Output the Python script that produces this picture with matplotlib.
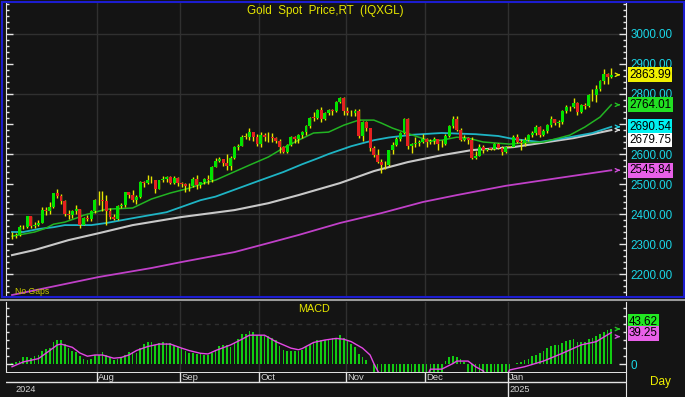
import numpy as np
import pandas as pd
import matplotlib
matplotlib.use('Agg')
import matplotlib.pyplot as plt
from matplotlib.lines import Line2D
from matplotlib.patches import Rectangle
from matplotlib.ticker import MultipleLocator, FixedLocator, FormatStrFormatter

plt.rcParams['font.family'] = ['Liberation Sans', 'DejaVu Sans']

# daily gold spot candles, 1 Jul 2024 .. 7 Feb 2025 (weekdays)
dates = pd.bdate_range('2024-07-01', '2025-02-07')

opens = [2326, 2327, 2330, 2356, 2356, 2392, 2359, 2364, 2371, 2415, 2411, 2422, 2469, 2459, 2445, 2400, 2396, 2409, 2417, 2364, 2387, 2384, 2411,
         2447, 2446, 2443, 2409, 2390, 2382, 2427, 2431, 2472, 2465, 2447, 2456, 2507, 2504, 2514, 2512, 2484, 2512, 2518, 2524, 2504, 2520,
         2503, 2500, 2493, 2495, 2516, 2497, 2506, 2516, 2512, 2558, 2578, 2582, 2569, 2559, 2587, 2622, 2628, 2657, 2657, 2672, 2658,
         2634, 2663, 2657, 2656, 2653, 2644, 2622, 2608, 2630, 2657, 2649, 2662, 2674, 2693, 2721, 2720, 2748, 2715, 2736, 2747, 2743, 2774, 2788,
         2744, 2736, 2736, 2742, 2659, 2706, 2685, 2619, 2598, 2573, 2565, 2563, 2612, 2631, 2650, 2670, 2716, 2625, 2633, 2637, 2640,
         2650, 2639, 2643, 2650, 2632, 2633, 2660, 2694, 2718, 2681, 2648, 2652, 2646, 2586, 2594, 2622, 2613, 2618, 2617, 2634, 2621, 2606,
         2624, 2624, 2658, 2640, 2635, 2648, 2662, 2670, 2690, 2663, 2677, 2697, 2715, 2702, 2708, 2743, 2756, 2755, 2771, 2740, 2763, 2760, 2795,
         2798, 2815, 2842, 2866, 2856]
highs = [2339, 2336, 2365, 2363, 2392, 2393, 2372, 2381, 2424, 2425, 2440, 2470, 2483, 2467, 2446, 2412, 2412, 2431, 2418, 2390, 2398, 2414, 2451,
         2477, 2477, 2462, 2420, 2400, 2431, 2436, 2475, 2474, 2480, 2463, 2509, 2510, 2531, 2526, 2514, 2514, 2527, 2528, 2526, 2526, 2524,
         2506, 2504, 2503, 2523, 2529, 2508, 2519, 2529, 2560, 2586, 2590, 2585, 2600, 2595, 2625, 2634, 2664, 2670, 2685, 2674, 2666,
         2673, 2669, 2672, 2671, 2658, 2650, 2625, 2633, 2661, 2660, 2667, 2677, 2696, 2722, 2740, 2749, 2758, 2739, 2749, 2749, 2775, 2790, 2790,
         2758, 2745, 2750, 2749, 2711, 2710, 2685, 2627, 2618, 2583, 2577, 2615, 2639, 2656, 2674, 2721, 2721, 2635, 2657, 2646, 2665,
         2652, 2649, 2657, 2651, 2645, 2667, 2697, 2726, 2726, 2685, 2664, 2655, 2658, 2610, 2632, 2630, 2621, 2619, 2638, 2636, 2628, 2627,
         2627, 2662, 2665, 2649, 2655, 2666, 2678, 2697, 2692, 2683, 2699, 2725, 2716, 2713, 2745, 2763, 2759, 2785, 2772, 2765, 2770, 2799, 2817,
         2830, 2845, 2882, 2870, 2886]
lows = [2318, 2319, 2326, 2351, 2353, 2353, 2353, 2360, 2369, 2397, 2400, 2419, 2453, 2434, 2393, 2384, 2388, 2401, 2353, 2364, 2376, 2378, 2405,
        2430, 2410, 2364, 2382, 2379, 2381, 2419, 2425, 2455, 2440, 2432, 2453, 2490, 2499, 2504, 2471, 2482, 2507, 2507, 2499, 2500, 2494,
        2489, 2472, 2477, 2491, 2485, 2486, 2500, 2500, 2508, 2556, 2575, 2560, 2547, 2546, 2584, 2613, 2625, 2651, 2648, 2643, 2625,
        2624, 2642, 2640, 2639, 2636, 2605, 2605, 2603, 2627, 2638, 2637, 2654, 2664, 2687, 2710, 2716, 2708, 2713, 2729, 2730, 2740, 2771, 2730,
        2730, 2727, 2725, 2652, 2643, 2676, 2610, 2589, 2570, 2537, 2550, 2561, 2600, 2626, 2644, 2667, 2618, 2605, 2622, 2627, 2635,
        2622, 2632, 2632, 2613, 2622, 2631, 2658, 2687, 2676, 2643, 2644, 2633, 2584, 2583, 2592, 2602, 2610, 2615, 2614, 2616, 2597, 2604,
        2622, 2622, 2635, 2615, 2625, 2644, 2656, 2664, 2656, 2661, 2669, 2690, 2697, 2691, 2701, 2735, 2743, 2752, 2730, 2738, 2750, 2756, 2775,
        2772, 2810, 2834, 2834, 2852]
closes = [2327, 2330, 2356, 2356, 2392, 2359, 2364, 2371, 2415, 2411, 2422, 2469, 2459, 2445, 2400, 2396, 2409, 2417, 2364, 2387, 2384, 2411, 2447,
          2446, 2443, 2409, 2390, 2382, 2427, 2431, 2472, 2465, 2447, 2456, 2507, 2504, 2514, 2512, 2484, 2512, 2518, 2524, 2504, 2520, 2503,
          2500, 2493, 2495, 2516, 2497, 2506, 2516, 2512, 2558, 2578, 2582, 2569, 2559, 2587, 2622, 2628, 2657, 2657, 2672, 2658, 2634,
          2663, 2657, 2656, 2653, 2644, 2622, 2608, 2630, 2657, 2649, 2662, 2674, 2693, 2721, 2720, 2748, 2715, 2736, 2747, 2743, 2774, 2788, 2744,
          2736, 2736, 2742, 2659, 2706, 2685, 2619, 2598, 2573, 2565, 2563, 2612, 2631, 2650, 2670, 2716, 2625, 2633, 2637, 2640, 2650,
          2639, 2643, 2650, 2632, 2633, 2660, 2694, 2718, 2681, 2648, 2652, 2646, 2586, 2594, 2622, 2613, 2618, 2617, 2634, 2621, 2606, 2624,
          2624, 2658, 2640, 2635, 2648, 2662, 2670, 2690, 2663, 2677, 2697, 2715, 2702, 2708, 2743, 2756, 2755, 2771, 2740, 2763, 2760, 2795, 2798,
          2815, 2842, 2866, 2856, 2863.99]

# moving averages (bar index, value)
ma_fast_idx = [0, 3, 6, 9, 11, 14, 17, 19, 22, 25, 32, 37, 42, 47, 51, 54, 63, 68, 72, 76, 80, 84, 88, 92, 96, 98, 101, 104, 107, 111,
               114, 118, 121, 125, 129, 132, 135, 141, 145, 148, 152, 156, 159]
ma_fast = [2326, 2333, 2340, 2353, 2366, 2373, 2386, 2396, 2406, 2416, 2420, 2450, 2470, 2486, 2503, 2513, 2563, 2590, 2620, 2646,
           2670, 2673, 2696, 2713, 2713, 2703, 2686, 2673, 2660, 2643, 2646, 2656, 2653, 2640, 2636, 2633, 2636, 2640, 2653, 2663,
           2690, 2723, 2764.01]
ma_mid_idx = [0, 3, 7, 11, 14, 21, 25, 32, 41, 50, 54, 66, 72, 77, 81, 84, 90, 96, 100, 106, 114, 123, 129, 133, 140, 148, 154, 159]
ma_mid = [2340, 2340, 2350, 2356, 2363, 2363, 2370, 2386, 2406, 2446, 2458, 2513, 2540, 2566, 2585, 2600, 2626, 2646, 2655, 2664,
          2670, 2666, 2660, 2650, 2640, 2656, 2670, 2690.54]
ma_slow_idx = [0, 6, 15, 23, 32, 45, 59, 68, 76, 87, 96, 105, 114, 122, 133, 140, 149, 159]
ma_slow = [2263, 2280, 2313, 2336, 2363, 2390, 2413, 2436, 2463, 2503, 2543, 2573, 2596, 2613, 2623, 2636, 2653, 2679.75]
ma_long_idx = [0, 10, 23, 37, 45, 59, 68, 76, 87, 98, 109, 118, 131, 145, 159]
ma_long = [2130, 2156, 2190, 2220, 2240, 2273, 2303, 2330, 2370, 2403, 2440, 2463, 2494, 2520, 2545.84]

# MACD bars (one per day) and signal line
macd = [2, 3, 4, 9, 9, 8, 10, 12, 16, 19, 20, 27, 30, 30, 25, 20, 17, 15, 10, 7, 5, 7, 12,
        12, 15, 11, 9, 5, 6, 8, 12, 15, 15, 14, 20, 25, 27, 28, 24, 26, 27, 26, 26, 24, 22,
        20, 16, 14, 14, 13, 13, 12, 12, 14, 18, 23, 24, 24, 22, 26, 31, 37, 38, 41, 40, 36,
        36, 35, 35, 33, 30, 23, 18, 16, 16, 16, 17, 18, 22, 25, 27, 30, 30, 30, 30, 32, 33, 36, 32,
        30, 25, 22, 13, 9, 5, 1, -12, -14, -16, -18, -18, -16, -14, -12, -12, -13, -13, -12, -12, -12,
        -12, -12, -12, -12, -11, 4, 9, 10, 9, 6, 3, -11, -12, -14, -14, -14, -14, -13, -12, -12, -12, -11,
        -11, 1, 2, 3, 5, 7, 10, 12, 14, 17, 20, 23, 24, 24, 26, 29, 30, 31, 28, 28, 28, 31, 33,
        35, 37, 40, 42, 43.62]
sig_idx = [0, 3, 7, 10, 12, 13, 16, 18, 20, 22, 24, 27, 29, 31, 33, 36, 39, 42, 45, 47, 50, 52, 54, 58, 61, 63, 67, 70, 74, 76,
           77, 80, 83, 86, 88, 90, 93, 95, 96, 97, 98, 110, 111, 114, 117, 118, 121, 123, 125, 126, 131, 132, 136, 141, 146, 151, 155, 159]
sig = [-3, 3, 7, 17, 24, 25, 21, 14, 10, 11.5, 11.5, 7.5, 8.5, 11.5, 17, 22, 25, 25, 20, 17, 13.6, 12.8, 17, 24, 31, 36, 36, 28, 20, 18,
       19.5, 27, 30, 32, 31, 28, 20, 11.5, 1, -8, -16, -16, -6, -6, 1, 4, 4, -3, -8, -16, -16, -7, -3, 4, 13.6, 24, 28, 39.25]

x = np.arange(len(dates))
o, h, l, c = map(np.array, (opens, highs, lows, closes))
# month starts with a label (the short last month is left unlabeled, as in the source)
month_idx = [i for i in range(1, len(dates) - 10) if dates[i].month != dates[i - 1].month]
year_idx = [0] + [i for i in range(1, len(dates)) if dates[i].year != dates[i - 1].year]

W, H = 685, 397
BG = '#141414'
GRID = '#303030'
AXC = '#e4e4e4'
CYAN = '#1ad6e6'
YEL = '#e6e600'

fig = plt.figure(figsize=(W / 100, H / 100), dpi=100, facecolor=BG)


def box(left, top, right, bottom):
    return [left / W, 1 - bottom / H, (right - left) / W, (bottom - top) / H]


ax = fig.add_axes(box(6, 3, 626, 296))
axm = fig.add_axes(box(6, 302, 626, 372))
axd = fig.add_axes(box(6, 372, 626, 397))

for a in (ax, axm, axd):
    a.set_facecolor(BG)
    a.set_xlim(-1.6, 162.9)
    a.set_xticks([])
    for s in a.spines.values():
        s.set_visible(False)
axd.set_yticks([])
for a in (ax, axm):
    for side in ('left', 'right'):
        a.spines[side].set_visible(True)
        a.spines[side].set_color(AXC)
    a.tick_params(axis='y', which='both', direction='in', left=True, right=True,
                  labelleft=False, labelright=True, color=AXC, labelcolor=CYAN,
                  labelsize=8.4, pad=3)
    a.tick_params(axis='y', which='major', length=5, width=1)
    a.tick_params(axis='y', which='minor', length=2.5, width=1)
    for m in month_idx:
        a.axvline(m - 0.5, color=GRID, lw=1, zorder=0)

# price panel
ax.set_ylim(2126.7, 3103.3)
ax.yaxis.set_major_locator(FixedLocator(range(2200, 3001, 100)))
ax.yaxis.set_minor_locator(MultipleLocator(20))
ax.yaxis.set_major_formatter(FormatStrFormatter('%.2f'))
for v in range(2200, 3001, 200):
    ax.axhline(v, color=GRID, lw=1, zorder=0)

ax.plot(ma_long_idx, ma_long, color='#c040c8', lw=1.3, zorder=2)
ax.plot(ma_slow_idx, ma_slow, color='#c8c8c8', lw=1.5, zorder=2)
ax.plot(ma_mid_idx, ma_mid, color='#1eb4c4', lw=1.3, zorder=2)
ax.plot(ma_fast_idx, ma_fast, color='#22b422', lw=1.1, zorder=2)

body_col = np.where(c > o, '#00e400', np.where(c < o, '#e42020', '#b4b400'))
ax.vlines(x, l, h, color=YEL, lw=1, zorder=3)
ax.bar(x, np.maximum(np.abs(c - o), 2), bottom=np.minimum(o, c), width=0.78,
       color=body_col, linewidth=0, zorder=4)


def value_tag(a, y, text, face):
    a.text(1.005, y, text, transform=a.get_yaxis_transform(), ha='left', va='center',
           fontsize=8.4, color='black', clip_on=False, zorder=10,
           bbox=dict(boxstyle='square,pad=0.12', fc=face, ec='none'))


def arrow(a, y, col):
    a.annotate('', xy=(0.995, y), xytext=(0.984, y), xycoords=a.get_yaxis_transform(),
               arrowprops=dict(arrowstyle='->', color=col, lw=1, mutation_scale=6),
               annotation_clip=False)


tags = [(closes[-1], 0, '#f0f000', YEL),
        (ma_fast[-1], 0, '#22e022', '#22c022'),
        (ma_mid[-1], 0, '#00f0f0', '#1ec8d8'),
        (ma_slow[-1], -33, '#ffffff', '#d8d8d8'),
        (ma_long[-1], 0, '#e860e8', '#d050d8')]
for val, dy, face, acol in tags:
    value_tag(ax, val + dy, f'{val:.2f}', face)
    arrow(ax, val, acol)

fig.text(325 / W, 1 - 11 / H, 'Gold  Spot  Price,RT  (IQXGL)', color=YEL,
         fontsize=8.4, ha='center', va='center')
fig.text(15 / W, 1 - 291 / H, 'No Gaps', color='#c8c800', fontsize=6.2, ha='left', va='center')

# MACD panel
axm.set_ylim(-9.5, 77)
axm.yaxis.set_major_locator(FixedLocator([0]))
axm.yaxis.set_minor_locator(MultipleLocator(10))
axm.yaxis.set_major_formatter(FormatStrFormatter('%d'))
axm.axhline(50, color=GRID, lw=1, ls=(0, (3, 3)), zorder=0)
axm.bar(x, macd, width=0.45, color='#12cc12', linewidth=0, zorder=3)
axm.plot(sig_idx, sig, color='#e448e4', lw=1, zorder=4)
value_tag(axm, macd[-1] + 9, f'{macd[-1]:.2f}', '#22e822')
value_tag(axm, sig[-1] - 1, f'{sig[-1]:.2f}', '#e860e8')
arrow(axm, macd[-1], '#22c022')
arrow(axm, sig[-1] - 5, '#d050d8')
fig.text(314 / W, 1 - 309 / H, 'MACD', color=YEL, fontsize=7.8, ha='center', va='center')

# date rows
axd.set_ylim(0, 1)
axd.spines['right'].set_visible(True)
axd.spines['right'].set_color(AXC)
axd.axhline(1, color=AXC, lw=1.4)
axd.axhline(0.6, color=AXC, lw=1)
for m in month_idx:
    axd.vlines(m - 0.5, 0.6, 1, color=AXC, lw=1)
    axd.text(m - 0.1, 0.8, dates[m].strftime('%b'), color='#d4d4d4', fontsize=6.8,
             ha='left', va='center')
for i in year_idx:
    if i > 0:
        axd.vlines(i - 0.5, 0, 0.6, color=AXC, lw=1)
    axd.text(i + 0.8 if i == 0 else i - 0.1, 0.3, str(dates[i].year), color='#d4d4d4',
             fontsize=6.6, ha='left', va='center')
fig.text(660 / W, 1 - 382 / H, 'Day', color='#f0f000', fontsize=8.5, ha='center', va='center')

# panel frame and separator
fig.add_artist(Rectangle((1.5 / W, 1 - 297 / H), 682 / W, 295 / H, transform=fig.transFigure,
                         fill=False, ec='#1c1cd0', lw=1.5))
fig.add_artist(Line2D([0, 1], [1 - 299.5 / H] * 2, transform=fig.transFigure,
                      color='#9a9a9a', lw=1.5))

fig.savefig('out.png', dpi=100, facecolor=BG)
